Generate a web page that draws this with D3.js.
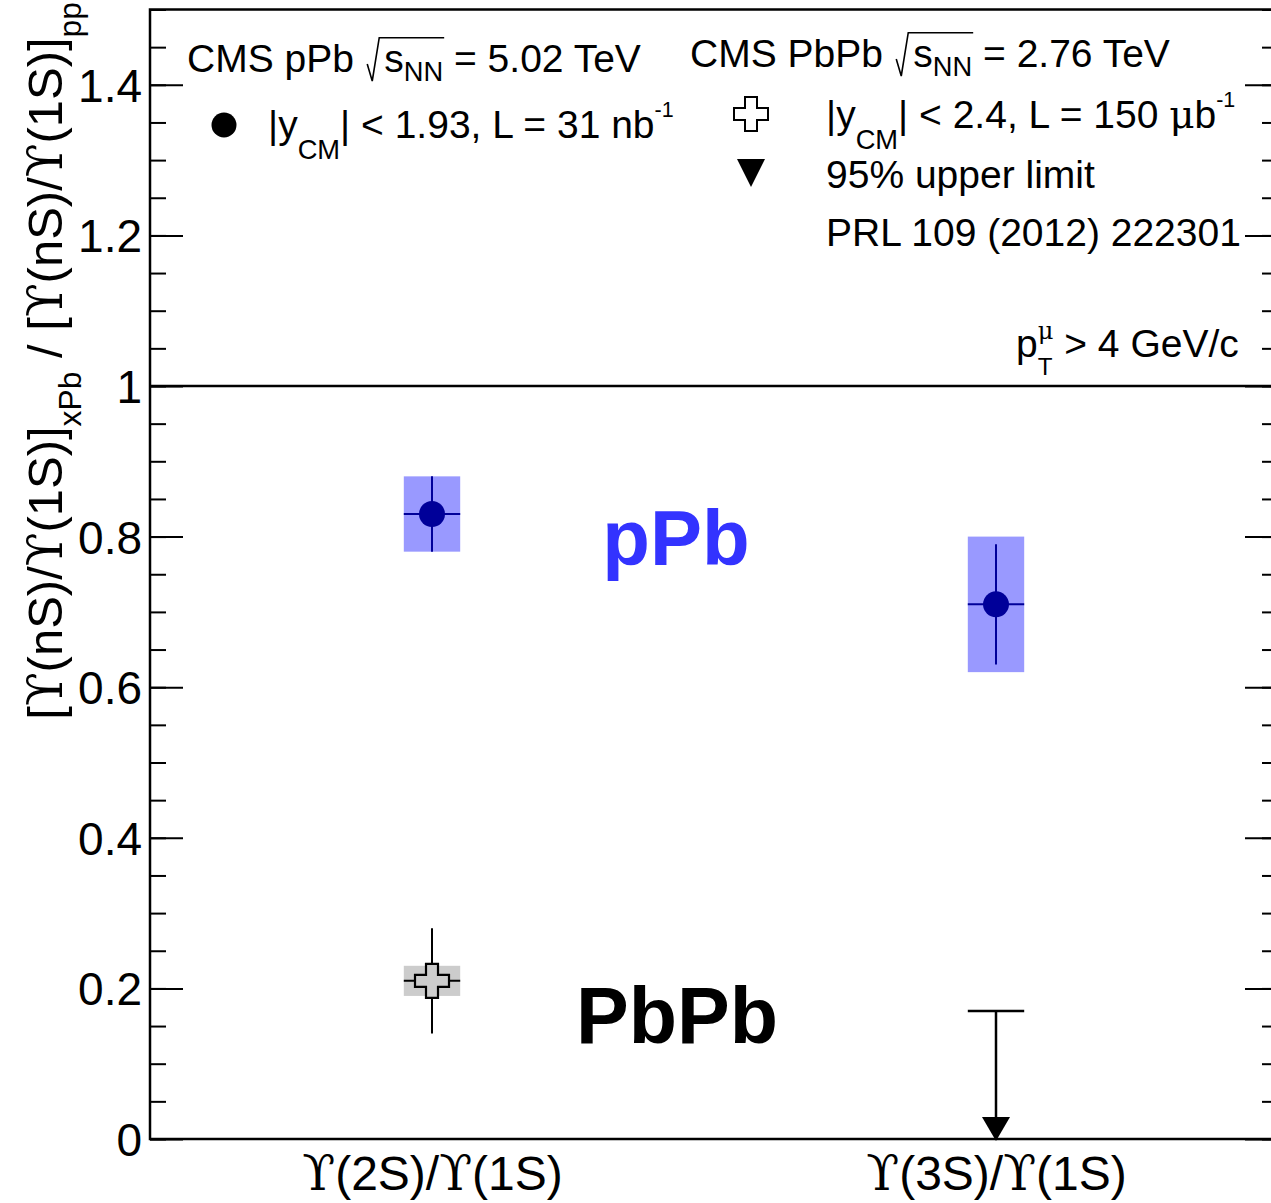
<!DOCTYPE html>
<html>
<head>
<meta charset="utf-8">
<script src="https://cdn.jsdelivr.net/npm/d3@7"></script>
<style>
  body { margin: 0; background: #fff; }
  text { font-family: "Liberation Sans", Arial, Helvetica, sans-serif; fill: #000; }
</style>
</head>
<body>
<svg id="chart" width="1271" height="1203"></svg>
<script>
// Double ratios of Upsilon excited states, xPb over pp
const categories = ["2S", "3S"];
const pPbValues = [0.83, 0.71];
const pPbStat = [0.05, 0.08];
const pPbSyst = [0.05, 0.09];
const PbPbValues = [0.21, null];
const PbPbStat = [0.07, null];
const PbPbSyst = [0.02, null];
const PbPbUpperLimit = [null, 0.17];
const yMajorTicks = [0, 0.2, 0.4, 0.6, 0.8, 1.0, 1.2, 1.4];
const yTickLabels = ["0", "0.2", "0.4", "0.6", "0.8", "1", "1.2", "1.4"];
const yMinorTicks = d3.range(0, 31).map(i => i * 0.05);

const svg = d3.select("#chart");
const frame = { left: 150, right: 1278, top: 9.5, bottom: 1139 };

const x = d3.scaleLinear().domain([0, 2]).range([frame.left, frame.right]);
const y = d3.scaleLinear().domain([0, 1.5]).range([frame.bottom, frame.top]);
const catX = i => x(i + 0.5);
const halfBox = 0.05;

const SERIF = '"DejaVu Serif", "Liberation Serif", serif';

// Rich text: parts carry text, baseline shift (em of base), scale, serif flag.
// Shifts are applied with relative dy so the whole line stays one text chunk.
function richText(parent, px, py, base, parts, anchor) {
  const t = parent.append("text")
    .attr("x", px).attr("y", py)
    .attr("font-size", base)
    .attr("text-anchor", anchor || "start");
  const nodes = [];
  let cur = 0;
  parts.forEach(p => {
    const target = (p.dy || 0) * base;
    const s = t.append("tspan")
      .attr("font-size", base * (p.s || 1))
      .text(p.t);
    if (target !== cur) { s.attr("dy", target - cur); cur = target; }
    if (p.dx) s.attr("dx", p.dx * base);
    if (p.serif) s.style("font-family", SERIF);
    nodes.push(s);
  });
  return { text: t, spans: nodes };
}

// Systematic boxes
const g = svg.append("g");
categories.forEach((c, i) => {
  if (pPbValues[i] != null) {
    g.append("rect")
      .attr("x", x(i + 0.5 - halfBox)).attr("width", x(i + 0.5 + halfBox) - x(i + 0.5 - halfBox))
      .attr("y", y(pPbValues[i] + pPbSyst[i])).attr("height", y(pPbValues[i] - pPbSyst[i]) - y(pPbValues[i] + pPbSyst[i]))
      .attr("fill", "#9999ff");
  }
  if (PbPbValues[i] != null) {
    g.append("rect")
      .attr("x", x(i + 0.5 - halfBox)).attr("width", x(i + 0.5 + halfBox) - x(i + 0.5 - halfBox))
      .attr("y", y(PbPbValues[i] + PbPbSyst[i])).attr("height", y(PbPbValues[i] - PbPbSyst[i]) - y(PbPbValues[i] + PbPbSyst[i]))
      .attr("fill", "#cccccc");
  }
});

// Reference line at unity
g.append("line")
  .attr("x1", frame.left).attr("x2", frame.right)
  .attr("y1", y(1)).attr("y2", y(1))
  .attr("stroke", "#000").attr("stroke-width", 2.5);

// Statistical error bars
function errorBar(i, v, e, color) {
  g.append("line").attr("x1", catX(i)).attr("x2", catX(i))
    .attr("y1", y(v + e)).attr("y2", y(v - e))
    .attr("stroke", color).attr("stroke-width", 2);
  g.append("line").attr("x1", x(i + 0.5 - halfBox)).attr("x2", x(i + 0.5 + halfBox))
    .attr("y1", y(v)).attr("y2", y(v))
    .attr("stroke", color).attr("stroke-width", 2);
}
categories.forEach((c, i) => {
  if (pPbValues[i] != null) errorBar(i, pPbValues[i], pPbStat[i], "#000099");
  if (PbPbValues[i] != null) errorBar(i, PbPbValues[i], PbPbStat[i], "#000");
});

// Open cross marker path
function crossPath(cx, cy, h, a) {
  return `M${cx - a},${cy - h}H${cx + a}V${cy - a}H${cx + h}V${cy + a}H${cx + a}V${cy + h}H${cx - a}V${cy + a}H${cx - h}V${cy - a}H${cx - a}Z`;
}

// Markers
categories.forEach((c, i) => {
  if (pPbValues[i] != null) {
    g.append("circle").attr("cx", catX(i)).attr("cy", y(pPbValues[i])).attr("r", 13).attr("fill", "#000099");
  }
  if (PbPbValues[i] != null) {
    g.append("path").attr("d", crossPath(catX(i), y(PbPbValues[i]), 17, 6))
      .attr("fill", "#cccccc").attr("stroke", "#000").attr("stroke-width", 2.2);
  }
  if (PbPbUpperLimit[i] != null) {
    const ul = PbPbUpperLimit[i];
    g.append("line").attr("x1", x(i + 0.5 - halfBox)).attr("x2", x(i + 0.5 + halfBox))
      .attr("y1", y(ul)).attr("y2", y(ul)).attr("stroke", "#000").attr("stroke-width", 2.5);
    g.append("line").attr("x1", catX(i)).attr("x2", catX(i))
      .attr("y1", y(ul)).attr("y2", y(0) - 20).attr("stroke", "#000").attr("stroke-width", 2.5);
    const tip = y(0) + 2;
    g.append("path")
      .attr("d", `M${catX(i) - 14},${tip - 24}L${catX(i) + 14},${tip - 24}L${catX(i)},${tip}Z`)
      .attr("fill", "#000");
  }
});

// Frame
svg.append("rect")
  .attr("x", frame.left).attr("y", frame.top)
  .attr("width", frame.right - frame.left).attr("height", frame.bottom - frame.top)
  .attr("fill", "none").attr("stroke", "#000").attr("stroke-width", 2.5);

// Left axis: inward ticks with labels
const leftMajor = d3.axisLeft(y).tickValues(yMajorTicks)
  .tickSizeInner(-33).tickSizeOuter(0).tickPadding(8)
  .tickFormat((d, i) => yTickLabels[i]);
const la = svg.append("g").attr("transform", `translate(${frame.left},0)`).call(leftMajor);
la.select(".domain").remove();
la.selectAll(".tick line").attr("stroke", "#000").attr("stroke-width", 2);
la.selectAll(".tick text").attr("font-size", 46).attr("font-family", '"Liberation Sans", Arial, sans-serif').attr("fill", "#000").attr("dy", "0.36em");

const leftMinor = d3.axisLeft(y).tickValues(yMinorTicks).tickSizeInner(-16).tickSizeOuter(0).tickFormat("");
const lm = svg.append("g").attr("transform", `translate(${frame.left},0)`).call(leftMinor);
lm.select(".domain").remove();
lm.selectAll(".tick line").attr("stroke", "#000").attr("stroke-width", 2);

// Right axis: inward ticks only
const rightMajor = d3.axisRight(y).tickValues(yMajorTicks).tickSizeInner(-33).tickSizeOuter(0).tickFormat("");
const ra = svg.append("g").attr("transform", `translate(${frame.right},0)`).call(rightMajor);
ra.select(".domain").remove();
ra.selectAll(".tick line").attr("stroke", "#000").attr("stroke-width", 2);
const rightMinor = d3.axisRight(y).tickValues(yMinorTicks).tickSizeInner(-16).tickSizeOuter(0).tickFormat("");
const rm = svg.append("g").attr("transform", `translate(${frame.right},0)`).call(rightMinor);
rm.select(".domain").remove();
rm.selectAll(".tick line").attr("stroke", "#000").attr("stroke-width", 2);

// Bottom axis: category labels
const bottom = d3.axisBottom(x).tickValues(categories.map((c, i) => i + 0.5)).tickSize(0).tickFormat("");
const ba = svg.append("g").attr("transform", `translate(0,${frame.bottom})`).call(bottom);
ba.select(".domain").remove();
ba.selectAll(".tick").each(function (d, i) {
  const n = categories[i];
  richText(d3.select(this), 0, 51, 48, [
    { t: "ϒ", serif: true }, { t: `(${n})/` }, { t: "ϒ", serif: true }, { t: "(1S)" }
  ], "middle");
});

// Y axis title
const yt = svg.append("g").attr("transform", "translate(62,0) rotate(-90)");
richText(yt, -2, 0, 49, [
  { t: "[" }, { t: "ϒ", serif: true }, { t: "(nS)/" }, { t: "ϒ", serif: true }, { t: "(1S)]" },
  { t: "xPb", dy: 0.38, s: 0.65 },
  { t: " / [" }, { t: "ϒ", serif: true }, { t: "(nS)/" }, { t: "ϒ", serif: true }, { t: "(1S)]" },
  { t: "pp", dy: 0.38, s: 0.65 }
], "end");

// Radical sign drawn over a span range
function radical(rt, startIdx, endIdx, base, by) {
  const a = rt.spans[startIdx].node(), b = rt.spans[endIdx].node();
  const x0 = a.getStartPositionOfChar(0).x;
  const x1 = b.getEndPositionOfChar(b.getNumberOfChars() - 1).x;
  const top = by - 0.88 * base;
  rt.text.node().parentNode.appendChild(
    d3.create("svg:path")
      .attr("d", `M${x0 - 17},${by - 8}L${x0 - 12},${by + 9}L${x0 - 5},${top}L${x1 + 1},${top}`)
      .attr("fill", "none").attr("stroke", "#000").attr("stroke-width", 1.6).node()
  );
}

// Legend
const L = svg.append("g");
const FS = 39;
const r1 = richText(L, 187, 72, FS, [
  { t: "CMS pPb " }, { t: "s", dx: 0.5 }, { t: "NN", dy: 0.22, s: 0.7 }, { t: " = 5.02 TeV" }
]);
radical(r1, 1, 2, FS, 72);

L.append("circle").attr("cx", 224).attr("cy", 125).attr("r", 12.5).attr("fill", "#000");
richText(L, 268, 138, FS, [
  { t: "|y" }, { t: "CM", dy: 0.55, s: 0.7 }, { t: "| < 1.93, L = 31 nb" }, { t: "-1", dy: -0.55, s: 0.55 }
]);

const r2 = richText(L, 690, 67, FS, [
  { t: "CMS PbPb " }, { t: "s", dx: 0.5 }, { t: "NN", dy: 0.22, s: 0.7 }, { t: " = 2.76 TeV" }
]);
radical(r2, 1, 2, FS, 67);

L.append("path").attr("d", crossPath(751, 114, 17, 6)).attr("fill", "#fff").attr("stroke", "#000").attr("stroke-width", 2);
richText(L, 826, 128, FS, [
  { t: "|y" }, { t: "CM", dy: 0.55, s: 0.7 }, { t: "| < 2.4, L = 150 " }, { t: "μ", serif: true },
  { t: "b" }, { t: "-1", dy: -0.55, s: 0.55 }
]);

L.append("path").attr("d", "M737,159L765,159L751,187Z").attr("fill", "#000");
richText(L, 826, 188, FS, [{ t: "95% upper limit" }]);
richText(L, 826, 246, FS, [{ t: "PRL 109 (2012) 222301" }]);

// p_T^mu with stacked sub/superscript
const pt = richText(L, 1016, 357, FS, [
  { t: "p" }, { t: "T", dy: 0.45, s: 0.62 }, { t: "μ", dy: -0.45, s: 0.62, serif: true }, { t: " > 4 GeV/c" }
]);
{
  const tNode = pt.spans[1].node();
  const tx = tNode.getStartPositionOfChar(0).x;
  pt.spans[2].attr("x", tx);
  const w = Math.max(tNode.getComputedTextLength(), pt.spans[2].node().getComputedTextLength());
  pt.spans[3].attr("x", tx + w);
}

// Big system labels
svg.append("text").attr("x", 676).attr("y", 565).attr("text-anchor", "middle")
  .attr("font-size", 78).attr("font-weight", "bold").style("fill", "#3333ff").text("pPb");
svg.append("text").attr("x", 677).attr("y", 1043).attr("text-anchor", "middle")
  .attr("font-size", 79).attr("font-weight", "bold").style("fill", "#000").text("PbPb");
</script>
</body>
</html>
